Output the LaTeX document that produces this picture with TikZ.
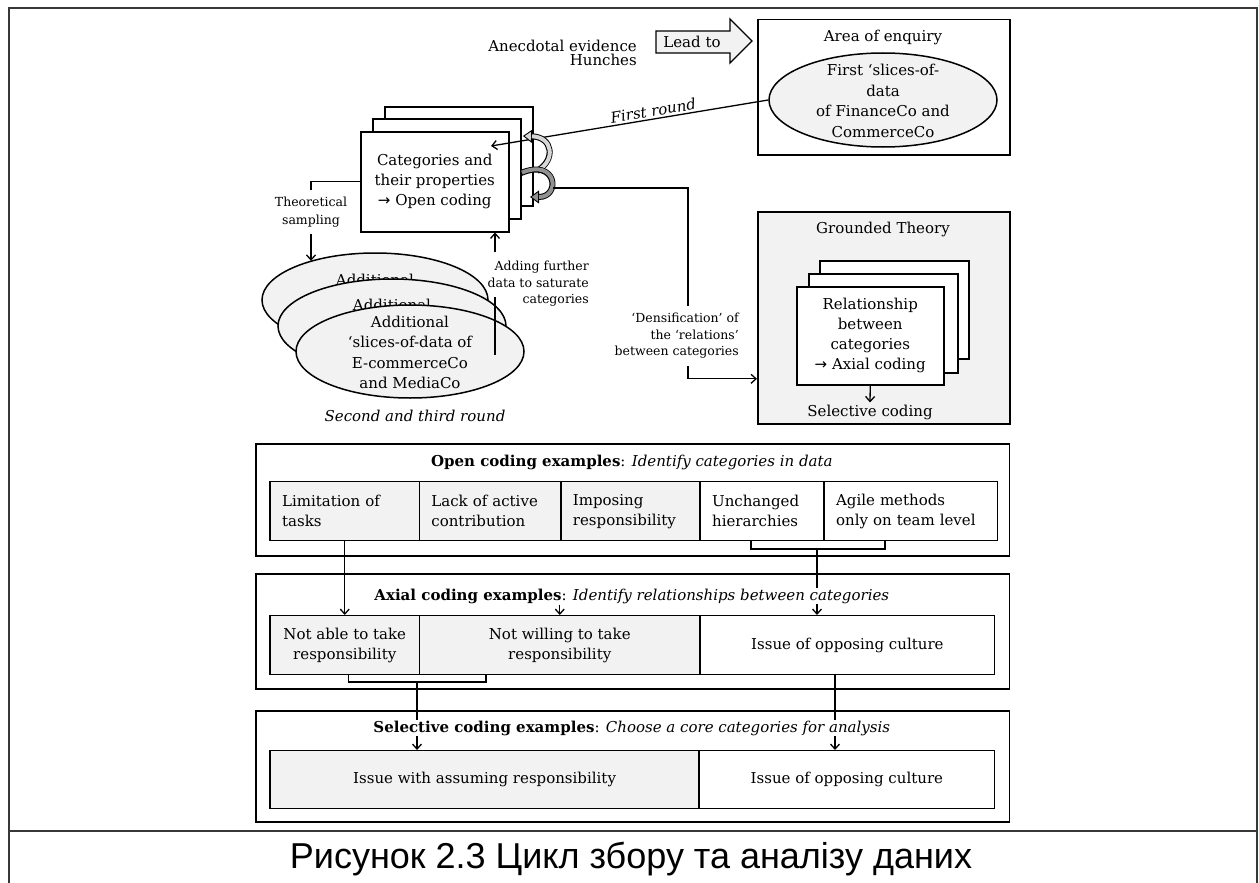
\documentclass[tikz,border=0pt]{standalone}
\usepackage{fontspec}
\setmainfont{DejaVu Serif}
\newfontfamily\arrowfont{DejaVu Sans}
\newfontfamily\captionfont{Liberation Sans}
\usetikzlibrary{arrows.meta,shapes.geometric}
\definecolor{paleface}{RGB}{242,242,242}
\definecolor{framegray}{RGB}{55,55,55}
\definecolor{looplight}{RGB}{215,215,215}
\definecolor{loopdark}{RGB}{145,145,145}
\newcommand{\rarr}{{\arrowfont →}}

\begin{document}
\begin{tikzpicture}[x=1pt,y=-1pt,
  every node/.style={font=\fontsize{15}{20}\selectfont, inner sep=2pt},
  note/.style={font=\fontsize{12.5}{16.5}\selectfont},
  wire/.style={draw=black, line width=1.3pt},
  pointy/.style={-{Straight Barb[length=5pt,width=9pt]}},
  frameline/.style={draw=framegray, line width=2pt},
  sheet/.style={draw=black, line width=1.5pt, fill=white, anchor=north west, inner sep=0pt},
  blob/.style={ellipse, draw=black, line width=1.5pt, fill=paleface, inner sep=0pt},
  blobtext/.style={align=center, font=\fontsize{15}{20.3}\selectfont},
  secbox/.style={draw=black, line width=1.6pt, fill=white, anchor=north west, inner sep=0pt, minimum width=753.6pt, minimum height=#1},
  cellbox/.style={draw=black, line width=1.4pt, anchor=north west, minimum height=59pt, inner ysep=0pt, inner xsep=12pt, align=left, text width=#1},
  ccell/.style={draw=black, line width=1.4pt, anchor=north west, minimum height=59pt, inner sep=0pt, align=center, minimum width=#1},
  shaded/.style={fill=paleface},
  blank/.style={fill=white},
  sectitle/.style={fill=white, inner sep=1pt},
  loopbody/.style={line width=6pt, draw=black},
  loopcore/.style={line width=4pt, shorten >=9pt, shorten <=1pt},
]
\useasboundingbox (0,0) rectangle (1259,883);

% outer table frame with caption row
\draw[frameline] (8.5,883) -- (8.5,8) -- (1257,8) -- (1257,883);
\draw[frameline] (8.5,831) -- (1257,831);

% starting point of the enquiry
\node[align=right, anchor=east, font=\fontsize{15}{13.5}\selectfont] (origin) at (639,53) {Anecdotal evidence\\Hunches};
\draw[line width=1.3pt, fill=paleface] (656,31) -- (730,31) -- (730,19) -- (752,41) -- (730,63) -- (730,53) -- (656,53) -- cycle;
\node (leadto) at (692,42) {Lead to};

% area of enquiry
\node[sheet, minimum width=252pt, minimum height=135pt] (area) at (757,19) {};
\node (areatitle) at (883,37) {Area of enquiry};
\node[blob, minimum width=228pt, minimum height=94pt] (firstslice) at (883,100) {};
\node[blobtext, font=\fontsize{15}{20.7}\selectfont] (firsttext) at (883,101) {First ‘slices-of-\\data\\of FinanceCo and\\CommerceCo};

% open coding sheets
\node[sheet, minimum width=148pt, minimum height=99pt] (catC) at (384,106) {};
\node[sheet, minimum width=148pt, minimum height=100pt] (catB) at (372,118) {};
\node[sheet, minimum width=148pt, minimum height=100pt, align=center] (catA) at (360,131) {Categories and\\their properties\\\rarr\ Open coding};

% first round of data
\coordinate (catin) at (491,146);
\draw[wire, pointy] (firstslice.west) -- (catin)
  node[pos=0.41, sloped, above, font=\itshape\fontsize{15}{18}\selectfont] (firstround) {First round};

% iteration loops beside the sheets
\coordinate (loopAs) at (537,171);
\coordinate (loopAe) at (523,136);
\coordinate (loopBs) at (521,173);
\coordinate (loopBe) at (530,197);
\draw[loopbody, -{Triangle[length=9pt,width=13pt,fill=looplight,line width=0.9pt]}] (loopAs) .. controls (556,160) and (553,137) .. (loopAe);
\draw[loopcore, looplight] (loopAs) .. controls (556,160) and (553,137) .. (loopAe);
\draw[loopbody, -{Triangle[length=9pt,width=13pt,fill=loopdark,line width=0.9pt]}] (loopBs) .. controls (557,158) and (561,197) .. (loopBe);
\draw[loopcore, loopdark] (loopBs) .. controls (557,158) and (561,197) .. (loopBe);

% theoretical sampling
\node[note, align=center, font=\fontsize{12.5}{18}\selectfont, inner ysep=7pt] (theo) at (311,212) {Theoretical\\sampling};

% further slices of data
\node[blob, minimum width=226pt, minimum height=94pt] (ellA) at (375,300) {};
\node (txtA) at (375,280) {Additional};
\node[blob, minimum width=228pt, minimum height=94pt] (ellB) at (392,326) {};
\node (txtB) at (392,305) {Additional};
\node[blob, minimum width=228pt, minimum height=93pt] (ellC) at (410,351.5) {};
\node[blobtext] (txtC) at (410,352.5) {Additional\\‘slices-of-data of\\E-commerceCo\\and MediaCo};
\node[font=\itshape\fontsize{15}{18}\selectfont] (round23) at (415,416) {Second and third round};

\draw[wire] (catA.west) -| (theo.north);
\draw[wire, pointy] (theo.south) -- (theo.south |- ellA.149);

% saturating the categories
\node[note, align=right, anchor=east] (addlabel) at (591,284) {Adding further\\data to saturate\\categories};
\coordinate (addS) at (495,355);
\coordinate (addT) at (495,297);
\coordinate (addU) at (495,252);
\draw[wire] (addS) -- (addT);
\draw[wire, pointy] (addU) -- (addU |- catA.south);

% grounded theory
\node[sheet, fill=paleface, line width=1.6pt, minimum width=252pt, minimum height=212pt] (gt) at (757,211) {};
\node (gttitle) at (883,229) {Grounded Theory};
\node[sheet, minimum width=149pt, minimum height=98pt] (relC) at (819,260) {};
\node[sheet, minimum width=149pt, minimum height=99pt] (relB) at (808,273) {};
\node[sheet, minimum width=147pt, minimum height=98pt, align=center] (relA) at (796,286) {Relationship\\between\\categories\\\rarr\ Axial coding};
\node (selc) at (870,412) {Selective coding};
\draw[wire, pointy] (relA.south) -- (selc.north);

% densification of relations
\node[note, align=right, anchor=east, inner ysep=7pt] (dens) at (741,336) {‘Densification’ of\\the ‘relations’\\between categories};
\coordinate (dstart) at (553,188);
\coordinate (dcol) at (688,188);
\draw[wire] (dstart) -- (dcol) -- (dcol |- dens.north);
\draw[wire, pointy] (dcol |- dens.south) |- ([yshift=-61pt]gt.west);

% coding examples: three sections
\node[secbox=112pt] (opensec) at (255,443) {};
\node[secbox=115pt] (axialsec) at (255,573) {};
\node[secbox=111pt] (selsec) at (255,710) {};

\node[cellbox=125.3pt, shaded] (o1) at (269.4,481) {Limitation of\\tasks};
\node[cellbox=117.5pt, shaded] (o2) at (418.7,481) {Lack of active\\contribution};
\node[cellbox=115.2pt, shaded] (o3) at (560.2,481) {Imposing\\responsibility};
\node[cellbox=100pt, blank] (o4) at (699.4,481) {Unchanged\\hierarchies};
\node[cellbox=149.1pt, blank] (o5) at (823.4,481) {Agile methods\\only on team level};

\node[ccell=149.3pt, shaded] (a1) at (269.4,615) {Not able to take\\responsibility};
\node[ccell=280.7pt, shaded] (a2) at (418.7,615) {Not willing to take\\responsibility};
\node[ccell=294.6pt, blank] (a3) at (699.4,615) {Issue of opposing culture};

\node[ccell=429pt, shaded, minimum height=58pt] (s1) at (269.4,750) {Issue with assuming responsibility};
\node[ccell=295.6pt, blank, minimum height=58pt] (s2) at (698.4,750) {Issue of opposing culture};

% links between the coding levels
\coordinate (bOl) at (751,549);
\coordinate (bOr) at (885,549);
\coordinate (bOm) at (817,549);
\draw[wire] (o4.south -| bOl) -- (bOl) -- (bOr) -- (o5.south -| bOr);
\draw[wire, pointy] (bOm) -- (bOm |- a3.north);
\draw[wire, pointy] (o1.south) -- (a1.north);

\coordinate (bAl) at (348.4,682);
\coordinate (bAr) at (486,682);
\coordinate (bAm) at (417,682);
\coordinate (cul) at (835,674);
\draw[wire] (a1.south -| bAl) -- (bAl) -- (bAr) -- (a2.south -| bAr);
\draw[wire, pointy] (bAm) -- (bAm |- s1.north);
\draw[wire, pointy] (a3.south -| cul) -- (cul |- s2.north);

\node[sectitle] (opentitle) at (631.8,462) {\textbf{Open coding examples}: \textit{Identify categories in data}};
\node[sectitle] (axialtitle) at (631.8,596) {\textbf{Axial coding examples}: \textit{Identify relationships between categories}};
\node[sectitle] (seltitle) at (631.8,728) {\textbf{Selective coding examples}: \textit{Choose a core categories for analysis}};
\draw[wire, pointy] (a2.north |- axialtitle.south) -- (a2.north);

% caption row
\node[font=\captionfont\fontsize{36}{40}\selectfont] (caption) at (631,859) {Рисунок 2.3 Цикл збору та аналізу даних};
\end{tikzpicture}
\end{document}
